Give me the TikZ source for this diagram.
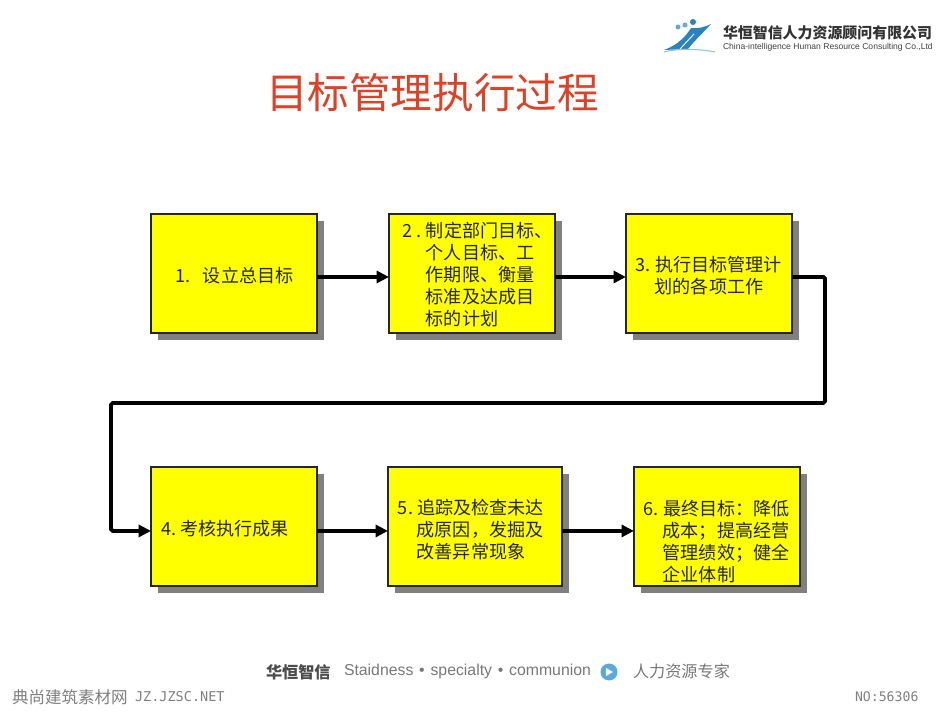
\documentclass[tikz,border=0pt]{standalone}
\usepackage{fontspec}
\setmainfont{Noto Sans CJK SC}
\newfontfamily\latinfont{Liberation Sans}
\newfontfamily\markfont{DejaVu Sans Mono}
\usepackage{xcolor}
\usetikzlibrary{arrows.meta, positioning, shadows}
\definecolor{stepyellow}{RGB}{255,255,0}
\definecolor{titlered}{RGB}{222,66,38}
\definecolor{logoblue}{RGB}{42,130,190}
\definecolor{footgray}{RGB}{120,120,120}
\definecolor{playblue}{RGB}{90,170,220}
\newcommand{\steplift}[1]{\rule{0pt}{#1pt}}
\newcommand{\stepind}[1]{\hspace*{#1pt}}

\begin{document}
\begin{tikzpicture}[
  x=0.02cm, y=-0.02cm,
  stepbox/.style={rectangle, draw=black!85, line width=0.9pt, fill=stepyellow,
    text width=3.32cm, minimum height=2.38cm, inner sep=0pt, outer sep=0pt,
    font=\fontsize{10.3}{12.5}\selectfont, align=left, text=black!85,
    drop shadow={shadow xshift=0.14cm, shadow yshift=-0.14cm, fill=black!50, opacity=1}},
  arrow/.style={-{Triangle[length=7pt,width=6.8pt]}, line width=1.8pt},
  plain/.style={inner sep=0pt, outer sep=0pt, anchor=west}
]
\useasboundingbox (0,0) rectangle (950,712);

% title and logo
\node[plain, text=titlered, font=\fontsize{23.7}{26}\selectfont] (title) at (266,93) {目标管理执行过程};
\fill[logoblue] (664,50) .. controls (678,45) and (686,36) .. (691,28)
  .. controls (698,29) and (705,27) .. (711,24)
  .. controls (703,33) and (695,40) .. (688,49) -- cycle;
\draw[white, line width=0.5pt] (680,49) -- (694,34);
\fill[logoblue!70] (678,27) circle (2.5);
\fill[logoblue!70] (685,25) circle (2.5);
\fill[logoblue] (693,22) circle (3);
\draw[logoblue!50, line width=0.6pt] (664,52) .. controls (680,48) and (700,49) .. (715,52);
\node[plain, font=\fontsize{8.5}{10}\selectfont\bfseries, text=black!80] (logocn) at (723,33) {华恒智信人力资源顾问有限公司};
\node[plain, font=\latinfont\fontsize{4.87}{6}\selectfont, text=black!75] (logoen) at (723,47) {China-intelligence Human Resource Consulting Co.,Ltd};

% steps
\node[stepbox, anchor=north west] (b1) at (151,214) {\steplift{11.3}\stepind{14}1.\hspace{7pt}设立总目标};
\node[stepbox, right=1.44cm of b1] (b2) {\steplift{10.1}\mbox{\stepind{7.9}2\hspace{2.3pt}.\hspace{2.3pt}制定部门目标、}\\
  \stepind{21}个人目标、工\\ \stepind{21}作期限、衡量\\
  \stepind{21}标准及达成目\\ \stepind{21}标的计划};
\node[stepbox, right=1.42cm of b2] (b3) {\steplift{11.3}\mbox{\stepind{5.7}3.\hspace{2.3pt}执行目标管理计}\\ \stepind{16.4}划的各项工作};
\node[stepbox, below=2.68cm of b1] (b4) {\steplift{11.3}\stepind{5.7}4.\hspace{2.3pt}考核执行成果};
\node[stepbox, text width=3.48cm, right=1.42cm of b4] (b5) {\steplift{12.4}\mbox{\stepind{5.7}5.\hspace{2.3pt}追踪及检查未达}\\
  \stepind{16.4}成原因，发掘及\\ \stepind{16.4}改善异常现象};
\node[stepbox, right=1.44cm of b5] (b6) {\steplift{25.5}\mbox{\stepind{5.7}6.\hspace{2.3pt}最终目标：降低}\\
  \stepind{16.4}成本；提高经营\\ \stepind{16.4}管理绩效；健全\\ \stepind{16.4}企业体制};

\coordinate (loopright) at (825,403);
\coordinate (loopleft) at (111,403);

\draw[arrow] ([yshift=-0.07cm]b1.east) -- ([yshift=-0.07cm]b2.west);
\draw[arrow] ([yshift=-0.07cm]b2.east) -- ([yshift=-0.07cm]b3.west);
\draw[arrow, line width=2.2pt, rounded corners=1pt]
  ([yshift=-0.07cm]b3.east) -| (loopright) -- (loopleft) |- ([yshift=-0.09cm]b4.west);
\draw[arrow] ([yshift=-0.09cm]b4.east) -- ([yshift=-0.09cm]b5.west);
\draw[arrow] ([yshift=-0.09cm]b5.east) -- ([yshift=-0.09cm]b6.west);

% footer
\node[plain, font=\fontsize{9.2}{11}\selectfont\bfseries, text=black!70] (footcn) at (266,672) {华恒智信};
\node[plain, font=\latinfont\fontsize{9}{11}\selectfont, text=footgray] (footen) at (344,671) {Staidness\hspace{3.3pt}{\textbullet}\hspace{3.3pt}specialty\hspace{3.3pt}{\textbullet}\hspace{3.3pt}communion};
\node[circle, fill=playblue, minimum size=0.34cm, inner sep=0pt] (play) at (609,672) {};
\fill[white] (606,668) -- (613,672) -- (606,676) -- cycle;
\node[plain, font=\fontsize{9.2}{11}\selectfont, text=footgray] (foottag) at (633,671) {人力资源专家};
\node[plain, font=\fontsize{9.4}{11}\selectfont, text=black!50] (markcn) at (12,697) {典尚建筑素材网};
\node[plain, font=\markfont\fontsize{7.7}{9}\selectfont, text=black!50] (marken) at (135,697) {JZ.JZSC.NET};
\node[plain, font=\markfont\fontsize{7.5}{9}\selectfont, text=black!50] (markno) at (855,697) {NO:56306};
\end{tikzpicture}
\end{document}
